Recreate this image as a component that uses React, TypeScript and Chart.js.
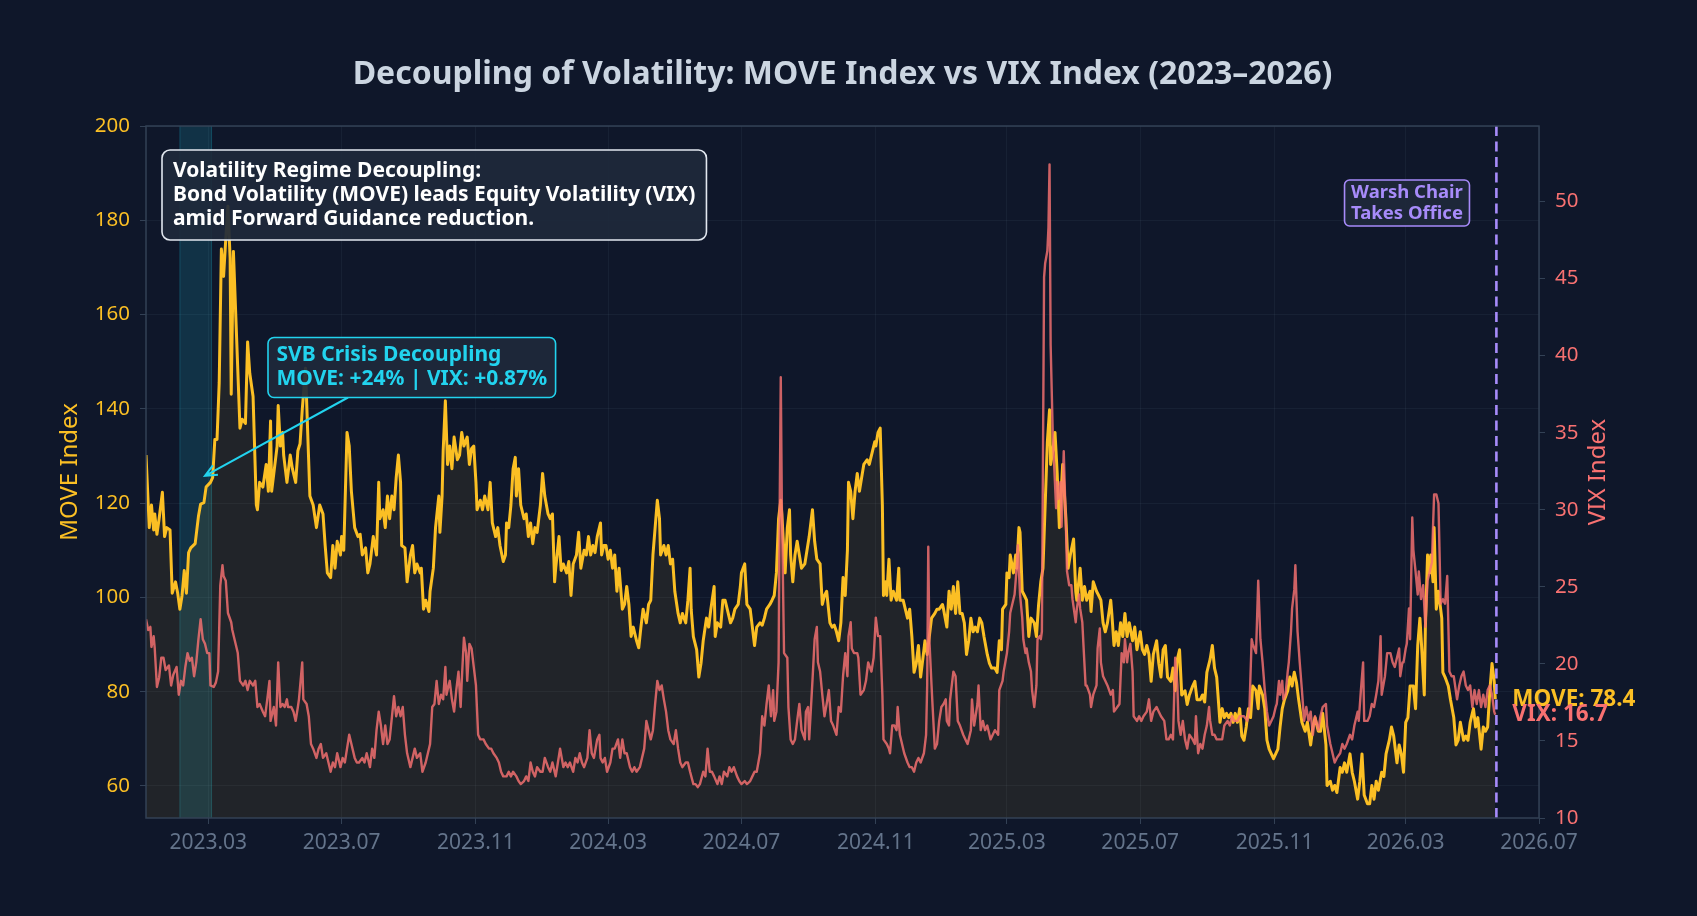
import React, { useEffect, useRef } from "react";
import { Chart, registerables } from "chart.js";

Chart.register(...registerables);

// ---------- DATA ----------
// x values are calendar days counted from the first trading day, 2023-01-03
const START_DATE = "2023-01-03";
const X_END_DATE = "2026-07-01";
const xTickDates = ["2023-03-01", "2023-07-01", "2023-11-01", "2024-03-01", "2024-07-01", "2024-11-01", "2025-03-01", "2025-07-01", "2025-11-01", "2026-03-01", "2026-07-01"];
const xTickLabels = ["2023.03", "2023.07", "2023.11", "2024.03", "2024.07", "2024.11", "2025.03", "2025.07", "2025.11", "2026.03", "2026.07"];
const moveTicks = [60, 80, 100, 120, 140, 160, 180, 200];
const vixTicks = [10, 15, 20, 25, 30, 35, 40, 45, 50];
const MOVE_RANGE = [53.2, 200];
const VIX_RANGE = [10, 54.9];
const svbBandDates = ["2023-02-03", "2023-03-04"];
const warshDate = "2026-05-23";
const svbArrowTarget = { date: "2023-02-26", move: 125.8 };

const moveDays = [
  0, 3, 5, 7, 8, 10, 12, 15, 17, 19,
  22, 24, 27, 29, 31, 33, 35, 37, 39, 41,
  45, 48, 50, 53, 55, 59, 61, 63, 65, 67,
  69, 71, 73, 75, 77, 78, 80, 86, 88, 91,
  93, 95, 98, 101, 102, 104, 107, 110, 112, 114,
  115, 117, 120, 121, 123, 125, 126, 129, 132, 134,
  137, 139, 141, 143, 146, 148, 150, 153, 156, 159,
  162, 164, 166, 169, 171, 173, 175, 178, 179, 181,
  184, 186, 188, 191, 194, 196, 198, 201, 203, 205,
  208, 211, 213, 214, 217, 219, 221, 223, 225, 227,
  229, 231, 233, 234, 237, 239, 242, 244, 246, 248,
  251, 252, 254, 256, 259, 260, 263, 265, 268, 269,
  271, 272, 274, 276, 278, 280, 282, 285, 287, 289,
  291, 294, 296, 298, 300, 302, 303, 306, 308, 310,
  313, 315, 317, 320, 322, 324, 327, 329, 330, 332,
  334, 336, 338, 339, 341, 343, 346, 348, 350, 352,
  354, 356, 358, 361, 363, 365, 368, 370, 372, 374,
  375, 378, 380, 382, 385, 387, 389, 391, 394, 396,
  398, 401, 403, 405, 407, 409, 411, 413, 416, 417,
  419, 421, 423, 425, 427, 429, 431, 433, 436, 438,
  440, 442, 444, 446, 449, 451, 453, 455, 458, 460,
  462, 464, 466, 468, 470, 471, 474, 476, 478, 480,
  482, 484, 487, 489, 491, 494, 496, 498, 499, 501,
  504, 506, 508, 510, 513, 515, 517, 520, 521, 523,
  526, 528, 530, 532, 535, 537, 539, 542, 544, 545,
  548, 550, 553, 555, 557, 559, 562, 564, 566, 568,
  571, 573, 575, 577, 579, 581, 582, 584, 585, 587,
  589, 590, 592, 594, 596, 598, 600, 603, 605, 607,
  610, 612, 614, 617, 619, 621, 623, 626, 628, 630,
  632, 634, 636, 638, 640, 642, 643, 645, 647, 649,
  651, 653, 655, 657, 660, 662, 665, 667, 668, 670,
  672, 674, 675, 677, 678, 680, 682, 684, 687, 689,
  690, 693, 695, 697, 699, 701, 703, 705, 707, 709,
  711, 713, 715, 718, 719, 722, 724, 726, 729, 730,
  733, 735, 737, 739, 741, 743, 745, 747, 749, 751,
  753, 755, 757, 759, 761, 763, 765, 767, 770, 772,
  774, 777, 779, 781, 783, 784, 787, 788, 790, 791,
  794, 796, 797, 799, 800, 802, 804, 806, 808, 810,
  813, 815, 817, 819, 821, 823, 825, 827, 828, 830,
  832, 834, 836, 839, 842, 844, 846, 849, 851, 852,
  855, 857, 859, 861, 864, 865, 867, 870, 872, 874,
  876, 878, 880, 883, 884, 886, 888, 890, 892, 894,
  896, 898, 900, 903, 905, 907, 910, 912, 914, 916,
  918, 920, 922, 925, 927, 929, 931, 933, 935, 938,
  940, 942, 944, 946, 948, 951, 953, 955, 958, 960,
  962, 965, 967, 969, 971, 974, 976, 978, 980, 983,
  985, 987, 989, 991, 993, 995, 997, 999, 1001, 1003,
  1005, 1007, 1009, 1011, 1013, 1016, 1018, 1019, 1022, 1024,
  1026, 1028, 1030, 1032, 1034, 1036, 1038, 1040, 1042, 1045,
  1047, 1049, 1051, 1053, 1055, 1058, 1061, 1063, 1066, 1068,
  1070, 1073, 1075, 1077, 1080, 1081, 1084, 1086, 1088, 1090,
  1093, 1095, 1097, 1099, 1102, 1104, 1106, 1109, 1111, 1113,
  1115, 1118, 1120, 1122, 1124, 1126, 1128, 1131, 1133, 1135,
  1138, 1140, 1142, 1145, 1147, 1149, 1151, 1153, 1155, 1157,
  1160, 1162, 1164, 1166, 1168, 1170, 1171, 1173, 1175, 1176,
  1178, 1179, 1181, 1183, 1186, 1187, 1189, 1192, 1194, 1197,
  1199, 1201, 1203, 1206, 1208, 1210, 1212, 1215, 1217, 1219,
  1222, 1224, 1226, 1228, 1230, 1232, 1234, 1235,
];
const moveValues = [
  130.2, 114.8, 119.6, 114.3, 117.7, 113.4, 116.7, 122.3, 112.9, 114.8,
  114.3, 100.9, 103.3, 100.9, 97.5, 100.4, 105.7, 100.9, 109.5, 110.5,
  111.4, 117.2, 119.8, 120.1, 123.4, 124.4, 125.4, 133.5, 133.5, 145.5,
  173.9, 168.1, 176, 183, 172, 143.1, 173.4, 135.9, 137.8, 136.9,
  154.2, 147.5, 142.6, 119.6, 118.6, 124.4, 123.4, 128.2, 122.5, 137.4,
  122.5, 126.3, 132.1, 140.7, 132.1, 135, 130.2, 124.4, 130.2, 127.3,
  124.4, 131.1, 132.6, 139.8, 148.6, 135, 121.5, 119.6, 114.8, 119.6,
  117.7, 111, 105.2, 104.2, 111, 106.2, 111.9, 109, 112.9, 110,
  135, 132.1, 122.5, 114.8, 112.9, 113.4, 109, 110.5, 105.2, 107.1,
  112.9, 109, 124.4, 116.7, 118.6, 114.8, 121.5, 116.7, 121.5, 118.6,
  125.4, 130.2, 124.4, 111, 110.5, 103.3, 109, 111, 105.2, 107.1,
  105.2, 106.2, 97.5, 99.4, 97, 101.3, 106.2, 114.8, 121.5, 113.8,
  121.5, 131.1, 141.7, 128.2, 132.1, 127.3, 134, 129.2, 130.2, 135,
  132.1, 134, 128.2, 131.6, 132.1, 124.4, 118.6, 120.6, 118.6, 121.5,
  118.6, 124.4, 115.8, 112.9, 114.8, 111, 107.6, 109, 115.8, 114.8,
  119.6, 127.3, 129.7, 121.5, 127.3, 119.6, 116.7, 117.7, 112.9, 115.8,
  111.4, 114.8, 113.8, 119.6, 126.3, 121.5, 117.7, 116.7, 117.7, 103.3,
  106.2, 112.9, 105.7, 107.1, 105.2, 107.6, 100.4, 107.1, 109, 113.8,
  106.2, 110, 109, 112.9, 109, 111, 109.5, 112.9, 115.8, 109,
  111, 111, 108.1, 110, 106.2, 109, 101.3, 106.2, 97.5, 98.5,
  102.3, 98.5, 91.7, 93.7, 90.8, 89.3, 93.7, 97.5, 94.6, 98.5,
  99.4, 109, 114.8, 120.6, 116.7, 109, 111, 109, 111, 107.1,
  108.1, 101.3, 96.6, 94.6, 96.6, 94.6, 99.4, 106.2, 97.5, 91.7,
  88.9, 83.1, 86, 90.8, 95.6, 93.7, 97.5, 102.3, 91.7, 94.6,
  93.7, 99.4, 99.4, 97.5, 94.6, 95.6, 97.5, 98.5, 102.3, 105.2,
  107.1, 98.5, 97.5, 93.7, 89.8, 93.7, 94.6, 94.1, 95.6, 97.5,
  98.5, 99.4, 100.4, 105.2, 116.7, 120.6, 117.7, 109, 105.2, 114.8,
  118.6, 109, 103.3, 109, 111.9, 109, 106.2, 107.1, 110, 112.9,
  118.6, 111.9, 108.1, 107.1, 98.5, 100.4, 101.3, 94.6, 93.7, 94.1,
  92.7, 90.8, 94.6, 104.2, 100.4, 110, 124.4, 122.5, 116.7, 122.5,
  126.3, 122.5, 125.4, 128.2, 129.2, 128.2, 131.1, 133, 132.1, 135,
  135.9, 119.6, 100.4, 103.3, 100.4, 108.1, 99.4, 101.3, 99.4, 106.2,
  99.4, 99.4, 97.5, 95.6, 97.5, 91.7, 84.1, 86, 89.8, 83.1,
  86.9, 90.8, 87.9, 93.7, 95.6, 96.6, 97.5, 97.5, 98.5, 97.5,
  93.7, 101.3, 97.5, 102.3, 96.6, 103.3, 96.6, 96.6, 94.6, 87.9,
  90.8, 95.6, 92.7, 93.7, 92.7, 95.6, 94.6, 91.7, 87.9, 86,
  85, 85, 84.1, 90.8, 88.9, 97.5, 98.5, 105.2, 104.2, 109,
  105.2, 109, 106.2, 114.8, 113.8, 101.3, 100.4, 99.4, 91.7, 95.6,
  94.6, 91.7, 98.5, 103.3, 106.2, 119.6, 133, 139.8, 128.2, 131.1,
  135, 126.3, 114.8, 128.2, 116.7, 106.2, 109, 112.4, 101.3, 99.4,
  106.2, 99.4, 102.3, 99.4, 101.3, 97, 103.3, 101.3, 100.4, 99.4,
  94.6, 92.7, 94.6, 99.4, 96.6, 89.8, 92.7, 89.8, 94.6, 91.7,
  96.6, 91.7, 94.6, 90.8, 93.7, 88.9, 92.7, 88.9, 87.9, 89.8,
  87.9, 82.2, 87.9, 90.8, 86, 83.1, 88.9, 89.8, 83.1, 82.2,
  85, 80.2, 86.9, 88.9, 79.3, 80.2, 77.3, 79.3, 81.2, 82.2,
  78.3, 78.3, 79.3, 77.8, 84.1, 86.9, 89.8, 85, 83.1, 73.5,
  76.4, 74.5, 75.4, 74.5, 75.4, 73.5, 75.4, 73.5, 76.4, 70.6,
  69.7, 72.5, 76.4, 74.5, 81.2, 80.2, 76.4, 81.2, 79.3, 76.4,
  69.7, 67.8, 66.8, 65.8, 66.8, 67.8, 72.5, 76.4, 78.3, 80.2,
  83.1, 81.2, 84.1, 82, 78.3, 73.5, 71.6, 73.5, 68.7, 72.5,
  74.5, 71.6, 71.6, 75.4, 68.7, 60.1, 61, 59.1, 60.1, 58.6,
  63.9, 62.9, 64.9, 62.9, 66.8, 62.9, 61, 57.2, 61, 66.8,
  58.1, 56.2, 56.2, 60.1, 57.2, 61, 59.1, 62.9, 62, 66.8,
  69.7, 72.5, 70.6, 64.9, 68.7, 66.8, 62.9, 73.5, 74.5, 81.2,
  81.2, 76.4, 89.8, 95.6, 87.9, 79.3, 93.7, 109, 105.2, 109,
  103.3, 114.8, 97.5, 101.3, 95.6, 84.1, 83.1, 81.2, 78.3, 74.5,
  68.7, 69.7, 73.5, 69.7, 70.6, 69.7, 73.5, 76.4, 72.5, 74.5,
  67.8, 72.5, 71.6, 72.5, 80.2, 86, 82.2, 78.4,
];

const vixDays = [
  0, 2, 4, 5, 7, 8, 10, 12, 14, 16,
  18, 21, 23, 25, 28, 30, 32, 34, 36, 38,
  40, 42, 44, 46, 48, 50, 52, 54, 56, 58,
  59, 62, 64, 66, 68, 70, 71, 73, 75, 78,
  79, 82, 84, 86, 89, 91, 93, 95, 98, 100,
  102, 104, 107, 109, 111, 113, 114, 117, 119, 121,
  123, 125, 127, 129, 130, 133, 135, 137, 139, 140,
  143, 144, 147, 149, 151, 153, 156, 158, 160, 162,
  165, 167, 169, 171, 173, 175, 178, 180, 182, 184,
  186, 188, 191, 193, 195, 198, 200, 202, 205, 207,
  209, 211, 213, 215, 217, 219, 221, 223, 226, 227,
  229, 231, 233, 235, 237, 239, 242, 244, 246, 248,
  251, 253, 256, 258, 260, 262, 264, 266, 268, 270,
  272, 274, 275, 278, 280, 282, 284, 286, 288, 289,
  291, 293, 294, 296, 298, 300, 302, 304, 306, 309,
  311, 314, 316, 318, 321, 323, 325, 327, 330, 332,
  334, 336, 339, 341, 343, 346, 348, 350, 352, 354,
  356, 358, 361, 363, 365, 368, 370, 372, 375, 377,
  379, 382, 384, 386, 388, 391, 393, 395, 397, 399,
  401, 404, 406, 408, 410, 413, 415, 416, 418, 420,
  422, 425, 427, 429, 432, 434, 436, 438, 440, 443,
  445, 447, 449, 452, 454, 456, 458, 460, 462, 464,
  466, 468, 470, 472, 474, 476, 478, 480, 483, 485,
  487, 489, 491, 494, 496, 498, 501, 503, 505, 507,
  510, 512, 514, 516, 518, 520, 523, 525, 527, 529,
  532, 534, 536, 538, 541, 543, 545, 548, 550, 553,
  555, 557, 559, 562, 564, 566, 568, 570, 572, 574,
  575, 577, 579, 580, 581, 582, 584, 587, 588, 590,
  592, 594, 596, 598, 600, 603, 604, 606, 607, 610,
  612, 614, 615, 617, 619, 621, 623, 625, 627, 629,
  632, 634, 636, 638, 640, 642, 643, 645, 646, 648,
  651, 652, 654, 657, 659, 661, 664, 666, 668, 670,
  672, 674, 675, 678, 680, 681, 683, 685, 687, 688,
  690, 692, 694, 697, 699, 701, 703, 705, 707, 709,
  712, 714, 715, 716, 717, 719, 720, 722, 724, 726,
  728, 730, 732, 733, 735, 736, 739, 741, 743, 745,
  748, 750, 752, 755, 756, 758, 761, 762, 764, 766,
  768, 770, 773, 775, 777, 780, 781, 784, 785, 788,
  790, 791, 793, 795, 797, 798, 799, 800, 802, 803,
  805, 806, 808, 810, 811, 813, 815, 816, 818, 819,
  820, 822, 823, 825, 826, 827, 828, 829, 830, 831,
  833, 834, 835, 837, 838, 840, 842, 843, 845, 847,
  848, 851, 852, 854, 855, 857, 858, 860, 861, 864,
  865, 867, 870, 871, 873, 874, 876, 878, 880, 883,
  885, 886, 889, 891, 893, 895, 896, 898, 899, 901,
  903, 904, 907, 909, 911, 913, 916, 918, 920, 922,
  925, 927, 929, 932, 934, 936, 938, 940, 942, 944,
  945, 947, 949, 951, 953, 955, 958, 960, 961, 963,
  965, 967, 969, 971, 973, 974, 976, 978, 980, 983,
  985, 987, 990, 992, 994, 996, 999, 1001, 1003, 1005,
  1008, 1010, 1012, 1013, 1016, 1018, 1020, 1022, 1024, 1026,
  1028, 1030, 1032, 1034, 1035, 1037, 1038, 1040, 1041, 1043,
  1045, 1046, 1048, 1049, 1051, 1052, 1054, 1056, 1058, 1060,
  1062, 1064, 1066, 1068, 1070, 1073, 1075, 1077, 1080, 1081,
  1084, 1086, 1088, 1090, 1093, 1095, 1097, 1099, 1102, 1104,
  1106, 1109, 1110, 1112, 1114, 1115, 1118, 1120, 1122, 1124,
  1126, 1128, 1130, 1131, 1134, 1136, 1139, 1141, 1143, 1145,
  1147, 1148, 1150, 1151, 1153, 1154, 1156, 1157, 1159, 1160,
  1162, 1164, 1165, 1167, 1169, 1171, 1173, 1175, 1177, 1178,
  1179, 1181, 1183, 1185, 1187, 1189, 1191, 1193, 1195, 1197,
  1200, 1202, 1204, 1206, 1208, 1210, 1212, 1214, 1216, 1218,
  1220, 1222, 1224, 1226, 1228, 1230, 1232, 1234, 1235,
];
const vixValues = [
  22.9, 22.2, 22.4, 21.1, 21.8, 21, 18.5, 19.1, 20.4, 20.4,
  19.6, 19.9, 18.6, 19.3, 19.8, 18, 18.9, 18.6, 19.8, 20.7,
  20.2, 20.4, 19.2, 20.1, 21.6, 22.9, 21.6, 21.3, 20.7, 20.7,
  18.6, 18.5, 18.8, 19.5, 25.1, 26.4, 25.7, 25.4, 23.3, 22.7,
  22.2, 21.3, 20.7, 18.9, 18.6, 18.9, 18.3, 18.9, 18.6, 18.9,
  17.2, 17.4, 16.9, 16.6, 17.7, 18.9, 16.3, 17.2, 16, 20.1,
  17.2, 17.4, 17.2, 17.7, 17.2, 17.2, 16.9, 16.3, 17.2, 17.7,
  20.1, 17.7, 17.4, 16.6, 14.8, 14.5, 13.9, 14.5, 14.8, 13.9,
  14.2, 13.6, 13, 13.6, 13.3, 14.2, 13.3, 13.9, 13.6, 14.5,
  15.4, 14.8, 13.9, 13.6, 13.6, 13.9, 13.6, 14.2, 13.3, 14.5,
  13.9, 15.7, 16.9, 16, 14.8, 16, 14.8, 15.1, 17.2, 17.9,
  16.6, 17.2, 16.6, 17.2, 15.4, 14.2, 13.3, 13.9, 14.5, 13.9,
  14.2, 13, 13.6, 14.2, 14.8, 17.2, 17.4, 18.9, 17.4, 18,
  17.7, 19.8, 18, 18.9, 17.7, 16.9, 18.3, 19.5, 17.2, 18.9,
  21.7, 20.7, 18.9, 21.3, 21, 19.8, 18.6, 15.4, 15.1, 15.1,
  14.8, 14.5, 14.5, 14.2, 13.9, 13.6, 13, 12.7, 12.7, 13,
  12.7, 13, 12.7, 12.4, 12.2, 12.4, 12.7, 12.4, 13.6, 13,
  12.7, 13.3, 13, 13, 13.9, 13.3, 13, 13.6, 12.7, 13.6,
  14.5, 13.3, 13.6, 13.3, 13.6, 13, 13.9, 13.6, 14.2, 13.6,
  13.3, 13.9, 15.7, 14.2, 13.9, 15.1, 15.4, 13.9, 13.6, 13.9,
  13, 13.6, 14.5, 14.5, 15.1, 13.9, 15.1, 14.2, 14.2, 13.3,
  13, 13.3, 13, 13.3, 13.9, 14.5, 16.3, 15.7, 15.1, 15.7,
  17.4, 18.9, 18.3, 18.6, 17.7, 16.9, 15.7, 15.1, 14.8, 15.7,
  14.5, 13.6, 13.3, 13.6, 13.6, 13, 12.2, 12.2, 12, 12.2,
  13, 12.7, 14.5, 13, 13, 12.7, 12.2, 12.7, 12.2, 13,
  12.7, 13.3, 13, 13.3, 12.7, 12.4, 12.2, 12.4, 12.2, 12.4,
  12.7, 13, 13, 14.2, 16.6, 16, 17.4, 18.6, 16.6, 18.3,
  16.3, 16.9, 20.1, 30.1, 38.6, 30.1, 20.7, 20.4, 17.2, 15.1,
  14.8, 15.1, 16.3, 17.4, 15.7, 15.1, 16.9, 17.2, 15.1, 18.9,
  21.6, 22.4, 20.1, 19.5, 18, 16.6, 17.4, 18.3, 16.3, 16,
  15.4, 17.2, 16.9, 19.2, 20.7, 19.2, 21.8, 22.7, 21, 20.7,
  20.7, 20.4, 18, 18.3, 18.9, 20.1, 19.5, 20.4, 23, 21.8,
  21.8, 18, 15.1, 14.8, 14.5, 14.2, 16, 16, 15.7, 17.2,
  15.4, 14.8, 14.2, 13.6, 13.3, 13.3, 13, 13.6, 13.9, 13.6,
  14.2, 15.4, 18.6, 27.6, 21.6, 18.6, 17.2, 14.5, 14.8, 16.3,
  17.2, 17.4, 17.7, 16.3, 16, 17.7, 19.5, 19.2, 16.3, 16,
  15.4, 15.1, 14.8, 15.7, 17.7, 16, 17.4, 18.6, 15.7, 16.3,
  15.7, 16, 15.1, 15.4, 15.7, 15.4, 18.3, 18.9, 19.5, 20.7,
  22.1, 23.3, 23.9, 24.5, 26.3, 27.7, 26, 24.5, 23, 21.6,
  20.7, 21, 20.1, 19.5, 18.3, 17.2, 18.6, 21.6, 21.8, 21.6,
  22.1, 45.1, 46, 46.8, 48.3, 52.4, 40.7, 37.7, 34.8, 33.3,
  30.1, 31.8, 30.7, 31.8, 28.9, 33.8, 28.9, 26, 25.1, 25.1,
  24.2, 22.7, 23.6, 24.5, 23.6, 22.7, 21.3, 18.6, 18.6, 18,
  17.2, 18, 18.6, 21, 22.3, 20.1, 19.2, 18.9, 18.6, 18,
  18.3, 16.9, 17.2, 17.4, 20.7, 20.1, 21.6, 20.1, 20.7, 21.3,
  19.5, 16.6, 16.3, 16.6, 16.3, 16.6, 16.9, 17.7, 16.3, 16.9,
  17.2, 16.9, 16.6, 16.3, 15.1, 15.1, 15.4, 15.1, 20.4, 18.6,
  16.3, 15.4, 16.3, 15.1, 14.5, 15.4, 15.1, 14.8, 16.6, 14.2,
  14.8, 14.5, 15.4, 16, 17.2, 16.3, 15.4, 15.4, 15.1, 15.1,
  15.1, 16, 16.3, 16, 16.6, 16.3, 16.3, 16.6, 16.6, 16.6,
  16.3, 17.2, 21.6, 21.3, 20.7, 25.4, 21.6, 20.1, 18.3, 16.9,
  16, 16.3, 16.6, 17.2, 17.4, 18.9, 18, 18.9, 17.7, 18,
  19.5, 20.1, 22.1, 23.6, 24.8, 26.4, 22.1, 20.1, 18.3, 16.3,
  17.2, 16.3, 16.9, 15.4, 16.6, 15.7, 16.6, 17.2, 17.4, 16,
  14.8, 14.2, 13.6, 13.9, 14.2, 14.8, 14.5, 14.8, 15.4, 15.1,
  16, 16.9, 16.3, 18.3, 20.1, 16.3, 16.3, 16.6, 17.4, 17.2,
  18, 18.9, 21.8, 18, 19.2, 20.7, 20.7, 20.1, 19.8, 20.4,
  21, 19.2, 20.1, 20.1, 21, 21.3, 23.6, 21.6, 29.5, 27.4,
  26, 24.5, 26, 24.2, 25.1, 22.4, 25.4, 26, 26.6, 28.9,
  31, 31, 30.4, 23.9, 24.2, 23.9, 25.7, 19.5, 19.2, 19.2,
  17.7, 18.6, 19.2, 19.5, 18.6, 18.3, 18.6, 17.2, 18.3, 17.4,
  18.3, 17.2, 18, 17.2, 18.3, 18.6, 18, 16.9, 16.7,
];

// ---------- TEXT ----------
const TITLE = "Decoupling of Volatility: MOVE Index vs VIX Index (2023\u20132026)";
const mainNote = ["Volatility Regime Decoupling:", "Bond Volatility (MOVE) leads Equity Volatility (VIX)", "amid Forward Guidance reduction."];
const svbNote = ["SVB Crisis Decoupling", "MOVE: +24% | VIX: +0.87%"];
const warshNote = ["Warsh Chair", "Takes Office"];

// ---------- STYLE ----------
const FONT = "'Noto Sans', 'Open Sans', 'DejaVu Sans', sans-serif";
const BG = "#0f172a";
const MOVE_COLOR = "#fbbf24";
const VIX_COLOR = "#f87171";
const CYAN = "#22d3ee";
const VIOLET = "#a78bfa";
const SPINE = "#334155";

const DAY_MS = 86400000;
const dayOf = (iso: string) => (Date.parse(iso + "T00:00:00Z") - Date.parse(START_DATE + "T00:00:00Z")) / DAY_MS;
const xTickDays = xTickDates.map(dayOf);

function box(ctx: CanvasRenderingContext2D, x: number, y: number, w: number, h: number, r: number, fill: string, stroke: string, lw: number) {
  ctx.beginPath();
  (ctx as any).roundRect(x, y, w, h, r);
  ctx.fillStyle = fill;
  ctx.fill();
  ctx.lineWidth = lw;
  ctx.strokeStyle = stroke;
  ctx.stroke();
}

const overlayPlugin = {
  id: "overlay",
  beforeDraw(chart: any) {
    const { ctx, width, height } = chart;
    ctx.save();
    ctx.fillStyle = BG;
    ctx.fillRect(0, 0, width, height);
    ctx.restore();
  },
  beforeDatasetsDraw(chart: any) {
    const { ctx, chartArea: ca, scales } = chart;
    const x = scales.x;
    const a = x.getPixelForValue(dayOf(svbBandDates[0]));
    const b = x.getPixelForValue(dayOf(svbBandDates[1]));
    ctx.save();
    ctx.fillStyle = "rgba(34,211,238,0.15)";
    ctx.fillRect(a, ca.top, b - a, ca.bottom - ca.top);
    ctx.strokeStyle = "rgba(34,211,238,0.22)";
    ctx.lineWidth = 1;
    ctx.beginPath();
    ctx.moveTo(a, ca.top); ctx.lineTo(a, ca.bottom);
    ctx.moveTo(b, ca.top); ctx.lineTo(b, ca.bottom);
    ctx.stroke();
    ctx.restore();
  },
  afterDatasetsDraw(chart: any) {
    const { ctx, chartArea: ca, scales } = chart;
    const x = scales.x, y = scales.y, y1 = scales.y1;
    ctx.save();

    // Warsh vertical line
    const wx = x.getPixelForValue(dayOf(warshDate));
    ctx.strokeStyle = VIOLET;
    ctx.lineWidth = 2.6;
    ctx.setLineDash([10, 5.5]);
    ctx.beginPath();
    ctx.moveTo(wx, ca.top);
    ctx.lineTo(wx, ca.bottom);
    ctx.stroke();
    ctx.setLineDash([]);

    // frame
    ctx.strokeStyle = SPINE;
    ctx.lineWidth = 1.5;
    ctx.strokeRect(ca.left, ca.top, ca.right - ca.left, ca.bottom - ca.top);

    ctx.textBaseline = "middle";
    ctx.textAlign = "left";

    // main note
    ctx.font = `bold 21px ${FONT}`;
    {
      const lh = 24, px = 11, py = 9;
      const w = Math.max(...mainNote.map((t) => ctx.measureText(t).width)) + 2 * px;
      const h = mainNote.length * lh + 2 * py;
      const bx = ca.left + 16, by = ca.top + 24;
      box(ctx, bx, by, w, h, 8, "rgba(30,41,59,0.92)", "#e2e8f0", 1.6);
      ctx.fillStyle = "#ffffff";
      mainNote.forEach((t, i) => ctx.fillText(t, bx + px, by + py + lh * (i + 0.5)));
    }

    // SVB arrow + note
    {
      const tx = x.getPixelForValue(dayOf(svbArrowTarget.date));
      const ty = y.getPixelForValue(svbArrowTarget.move);
      const bx = ca.left + 122, by = ca.top + 211.5;
      const lh = 24, px = 8.5, py = 6;
      const w = Math.max(...svbNote.map((t) => ctx.measureText(t).width)) + 2 * px;
      const h = svbNote.length * lh + 2 * py;
      const sx = bx + 80, sy = by + h;
      ctx.strokeStyle = CYAN;
      ctx.lineWidth = 2;
      ctx.beginPath();
      ctx.moveTo(sx, sy);
      ctx.lineTo(tx, ty);
      const ang = Math.atan2(ty - sy, tx - sx);
      const hl = 13, hw = 0.42;
      ctx.moveTo(tx - hl * Math.cos(ang - hw), ty - hl * Math.sin(ang - hw));
      ctx.lineTo(tx, ty);
      ctx.lineTo(tx - hl * Math.cos(ang + hw), ty - hl * Math.sin(ang + hw));
      ctx.stroke();
      box(ctx, bx, by, w, h, 6, "rgba(30,41,59,0.92)", CYAN, 1.6);
      ctx.fillStyle = CYAN;
      svbNote.forEach((t, i) => ctx.fillText(t, bx + px, by + py + lh * (i + 0.5)));
    }

    // Warsh note
    {
      ctx.font = `bold 18.5px ${FONT}`;
      const lh = 21, px = 6.5, py = 2;
      const w = Math.max(...warshNote.map((t) => ctx.measureText(t).width)) + 2 * px;
      const h = warshNote.length * lh + 2 * py;
      const cx = ca.right - 132;
      const by = ca.top + 54;
      box(ctx, cx - w / 2, by, w, h, 5, "rgba(30,41,59,0.92)", VIOLET, 1.6);
      ctx.fillStyle = VIOLET;
      ctx.textAlign = "center";
      warshNote.forEach((t, i) => ctx.fillText(t, cx, by + py + lh * (i + 0.5)));
    }

    // end labels
    {
      const n = Math.min(moveDays.length, moveValues.length);
      const m = Math.min(vixDays.length, vixValues.length);
      const lastMove = moveValues[n - 1];
      const lastVix = vixValues[m - 1];
      const ex = x.getPixelForValue(moveDays[n - 1]) + 17;
      ctx.font = `bold 22.5px ${FONT}`;
      ctx.textAlign = "left";
      ctx.fillStyle = MOVE_COLOR;
      ctx.fillText(`MOVE: ${lastMove.toFixed(1)}`, ex, y.getPixelForValue(lastMove));
      ctx.fillStyle = VIX_COLOR;
      ctx.fillText(`VIX: ${lastVix.toFixed(1)}`, ex, y1.getPixelForValue(lastVix));
    }
    ctx.restore();
  },
  afterDraw(chart: any) {
    const { ctx, chartArea: ca } = chart;
    ctx.save();
    ctx.textAlign = "center";
    ctx.textBaseline = "middle";
    ctx.fillStyle = "#cbd5e1";
    ctx.font = `bold 32px ${FONT}`;
    ctx.fillText(TITLE, (ca.left + ca.right) / 2, 75);

    const cy = (ca.top + ca.bottom) / 2;
    ctx.font = `24px ${FONT}`;
    ctx.fillStyle = MOVE_COLOR;
    ctx.translate(70, cy);
    ctx.rotate(-Math.PI / 2);
    ctx.fillText("MOVE Index", 0, 0);
    ctx.setTransform(1, 0, 0, 1, 0, 0);
    ctx.fillStyle = VIX_COLOR;
    ctx.translate(1598, cy);
    ctx.rotate(-Math.PI / 2);
    ctx.fillText("VIX Index", 0, 0);
    ctx.restore();
  },
};

export default function App() {
  const ref = useRef<HTMLCanvasElement>(null);
  useEffect(() => {
    const canvas = ref.current;
    if (!canvas) return;
    Chart.defaults.font.family = FONT;
    const n = Math.min(moveDays.length, moveValues.length);
    const m = Math.min(vixDays.length, vixValues.length);
    const movePts = moveDays.slice(0, n).map((d, i) => ({ x: d, y: moveValues[i] }));
    const vixPts = vixDays.slice(0, m).map((d, i) => ({ x: d, y: vixValues[i] }));

    const chart = new Chart(canvas, {
      type: "line",
      data: {
        datasets: [
          {
            label: "VIX Index",
            data: vixPts,
            yAxisID: "y1",
            borderColor: "rgba(248,113,113,0.82)",
            borderWidth: 2.4,
            pointRadius: 0,
            tension: 0,
            fill: false,
            borderJoinStyle: "round",
            order: 0,
          },
          {
            label: "MOVE Index",
            data: movePts,
            yAxisID: "y",
            borderColor: MOVE_COLOR,
            borderWidth: 3,
            pointRadius: 0,
            tension: 0,
            fill: "start",
            backgroundColor: "rgba(251,191,36,0.08)",
            borderJoinStyle: "round",
            order: 1,
          },
        ],
      },
      options: {
        responsive: false,
        animation: false,
        events: [],
        layout: { padding: { top: 126, left: 0, right: 0, bottom: 0 } },
        plugins: {
          legend: { display: false },
          tooltip: { enabled: false },
          title: { display: false },
        },
        scales: {
          x: {
            type: "linear",
            min: 0,
            max: dayOf(X_END_DATE),
            afterBuildTicks: (s: any) => {
              s.ticks = xTickDays.map((v) => ({ value: v }));
            },
            afterFit: (s: any) => {
              s.height = 98;
            },
            ticks: {
              autoSkip: false,
              maxRotation: 0,
              color: "#64748b",
              font: { size: 21 },
              padding: 6,
              callback: (v: any) => {
                const i = xTickDays.indexOf(Number(v));
                return i >= 0 ? xTickLabels[i] : "";
              },
            },
            grid: { color: "rgba(148,163,184,0.07)", tickColor: SPINE, tickLength: 6, lineWidth: 1 },
            border: { display: false },
          },
          y: {
            type: "linear",
            position: "left",
            min: MOVE_RANGE[0],
            max: MOVE_RANGE[1],
            afterBuildTicks: (s: any) => {
              s.ticks = moveTicks.map((v) => ({ value: v }));
            },
            afterFit: (s: any) => {
              s.width = 146;
            },
            ticks: { color: MOVE_COLOR, font: { size: 20.5 }, padding: 10 },
            grid: { color: "rgba(148,163,184,0.07)", tickColor: SPINE, tickLength: 6, lineWidth: 1 },
            border: { display: false },
          },
          y1: {
            type: "linear",
            position: "right",
            min: VIX_RANGE[0],
            max: VIX_RANGE[1],
            afterBuildTicks: (s: any) => {
              s.ticks = vixTicks.map((v) => ({ value: v }));
            },
            afterFit: (s: any) => {
              s.width = 158;
            },
            ticks: { color: VIX_COLOR, font: { size: 20.5 }, padding: 10 },
            grid: { drawOnChartArea: false, tickColor: SPINE, tickLength: 6 },
            border: { display: false },
          },
        },
      } as any,
      plugins: [overlayPlugin],
    });
    return () => chart.destroy();
  }, []);

  return (
    <div style={{ position: "fixed", left: 0, top: 0, width: 1697, height: 916, background: BG }}>
      <canvas ref={ref} width={1697} height={916} style={{ display: "block", width: 1697, height: 916 }} />
    </div>
  );
}
